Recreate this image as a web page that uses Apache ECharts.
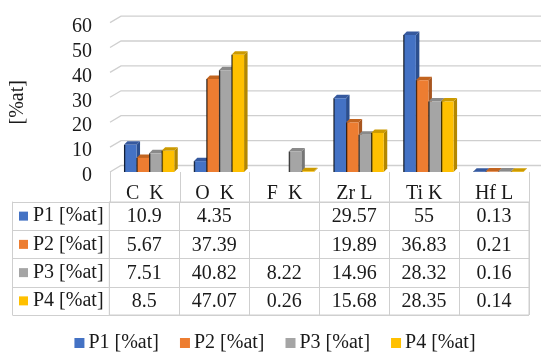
<!DOCTYPE html>
<html>
<head>
<meta charset="utf-8">
<script src="https://cdn.jsdelivr.net/npm/echarts@6/dist/echarts.min.js"></script>
<style>html,body{margin:0;padding:0;background:#fff}#c{width:550px;height:360px}</style>
</head>
<body>
<div id="c"></div>
<script>
// ---- data ----
var categories = ['C  K', 'O  K', 'F  K', 'Zr L', 'Ti K', 'Hf L'];
var seriesNames = ['P1 [%at]', 'P2 [%at]', 'P3 [%at]', 'P4 [%at]'];
var p1 = [10.9, 4.35, null, 29.57, 55, 0.13];
var p2 = [5.67, 37.39, null, 19.89, 36.83, 0.21];
var p3 = [7.51, 40.82, 8.22, 14.96, 28.32, 0.16];
var p4 = [8.5, 47.07, 0.26, 15.68, 28.35, 0.14];
var yTicks = [0, 10, 20, 30, 40, 50, 60];
var yName = '[%at]';

// ---- styles ----
var FONT = 'Liberation Serif';
var FS = 20;
var TXT = '#1a1a1a';
var LINE = '#cfcfcf';
var colors = ['#4472C4', '#ED7D31', '#A5A5A5', '#FFC000'];
var sideColors = ['#2C4F8E', '#A8561F', '#767676', '#B38700'];
var topColors = ['#36599E', '#C2641F', '#8A8A8A', '#CC9A00'];
var allSeries = [p1, p2, p3, p4];

var chart = echarts.init(document.getElementById('c'), null, {renderer: 'canvas'});

function barRenderer(s) {
  return function (params, api) {
    var cat = api.value(0), val = api.value(1);
    var colW = api.size([1, 0])[0];
    var bw = colW * 0.18;
    var base = api.coord([cat, 0]);
    var topPt = api.coord([cat, val]);
    var x0 = base[0] - colW * 0.3 + s * bw, x1 = x0 + bw;
    var y0 = base[1], y1 = topPt[1];
    var d = 3.5;
    return {
      type: 'group',
      children: [
        {type: 'polygon', shape: {points: [[x1, y0], [x1 + d, y0 - d], [x1 + d, y1 - d], [x1, y1]]}, style: {fill: sideColors[s]}},
        {type: 'polygon', shape: {points: [[x0, y1], [x0 + d, y1 - d], [x1 + d, y1 - d], [x1, y1]]}, style: {fill: topColors[s]}},
        {type: 'rect', shape: {x: x0, y: y1, width: bw, height: Math.max(y0 - y1, 0.01)},
          style: {fill: new echarts.graphic.LinearGradient(0, 0, 1, 0, [
            {offset: 0, color: echarts.color.modifyHSL(colors[s], null, null, -0.05)},
            {offset: 0.15, color: colors[s]}, {offset: 1, color: colors[s]}])}}
      ]
    };
  };
}

var series = [];
// back-wall gridlines
series.push({
  type: 'custom', xAxisIndex: 0, yAxisIndex: 0, silent: true, z: 1,
  data: yTicks.map(function (v) { return [0, v]; }),
  renderItem: function (params, api) {
    var cs = params.coordSys;
    var y = api.coord([0, api.value(1)])[1];
    var dx = 11, dy = -6.5;
    return {type: 'polyline', shape: {points: [[cs.x, y], [cs.x + dx, y + dy], [cs.x + cs.width + 12, y + dy]]},
      style: {stroke: LINE, lineWidth: 1.3, fill: null}};
  }
});
allSeries.forEach(function (arr, s) {
  var data = [];
  arr.forEach(function (v, i) { if (v !== null) data.push([i, v]); });
  series.push({
    type: 'custom', name: seriesNames[s], xAxisIndex: 0, yAxisIndex: 0, z: 2 + s,
    itemStyle: {color: colors[s]},
    data: data,
    renderItem: barRenderer(s)
  });
});
// table cell texts
var cellData = [];
allSeries.forEach(function (arr, r) {
  arr.forEach(function (v, c) { if (v !== null) cellData.push([c, r, v]); });
});
series.push({
  type: 'custom', xAxisIndex: 1, yAxisIndex: 1, silent: true, z: 10,
  data: cellData,
  renderItem: function (params, api) {
    var p = api.coord([api.value(0), api.value(1)]);
    return {type: 'text', x: p[0], y: p[1] + 1,
      style: {text: String(api.value(2)), fill: TXT, font: FS + 'px "' + FONT + '"', align: 'center', verticalAlign: 'middle'}};
  }
});

var rich = {t: {fontFamily: FONT, fontSize: FS, color: TXT, padding: [0, 0, 0, 5]}};
colors.forEach(function (c, i) { rich['s' + i] = {width: 9, height: 9, backgroundColor: c}; });

chart.setOption({
  animation: false,
  textStyle: {fontFamily: FONT},
  grid: [
    {left: 109.3, right: 21, top: 22.6, bottom: 188},
    {left: 109.3, right: 21, top: 202, bottom: 45, show: true, borderColor: LINE, borderWidth: 1}
  ],
  xAxis: [
    {type: 'category', gridIndex: 0, data: categories,
      axisLine: {show: false},
      axisTick: {show: true, length: 30, interval: 0, lineStyle: {color: LINE}},
      axisLabel: {interval: 0, margin: 12, fontFamily: FONT, fontSize: FS, color: TXT},
      splitLine: {show: false}},
    {type: 'category', gridIndex: 1, data: categories,
      axisLine: {show: false}, axisTick: {show: false}, axisLabel: {show: false},
      splitLine: {show: true, interval: 0, lineStyle: {color: LINE}}}
  ],
  yAxis: [
    {type: 'value', gridIndex: 0, min: 0, max: 60, interval: 10,
      name: yName, nameLocation: 'middle', nameGap: 82,
      nameTextStyle: {fontFamily: FONT, fontSize: FS, color: TXT, padding: [0, 10, 0, 0]},
      axisLine: {show: false}, axisTick: {show: false}, splitLine: {show: false},
      axisLabel: {margin: 18, formatter: function (v) { return '{a|' + v + '}'; },
        rich: {a: {fontFamily: FONT, fontSize: FS, color: TXT, padding: [8, 0, 0, 0]}}}},
    {type: 'category', gridIndex: 1, data: seriesNames, inverse: true,
      axisLine: {show: true, lineStyle: {color: LINE}},
      axisTick: {show: true, length: 96.6, interval: 0, lineStyle: {color: LINE}},
      splitLine: {show: true, interval: 0, lineStyle: {color: LINE}},
      axisLabel: {interval: 0, align: 'left', margin: 90.3,
        formatter: function (v, i) { return '{s' + i + '| }{t|' + v + '}'; }, rich: rich}},
    {type: 'category', gridIndex: 1, data: seriesNames, inverse: true, position: 'left', offset: 96.6,
      axisLine: {show: true, lineStyle: {color: LINE}}, axisTick: {show: false}, axisLabel: {show: false},
      splitLine: {show: false}}
  ],
  legend: {
    data: seriesNames, left: 'center', top: 328, icon: 'rect', itemWidth: 10, itemHeight: 10, itemGap: 21,
    textStyle: {fontFamily: FONT, fontSize: FS, color: TXT, padding: [0, 0, 0, -1]}
  },
  series: series
});
</script>
</body>
</html>
